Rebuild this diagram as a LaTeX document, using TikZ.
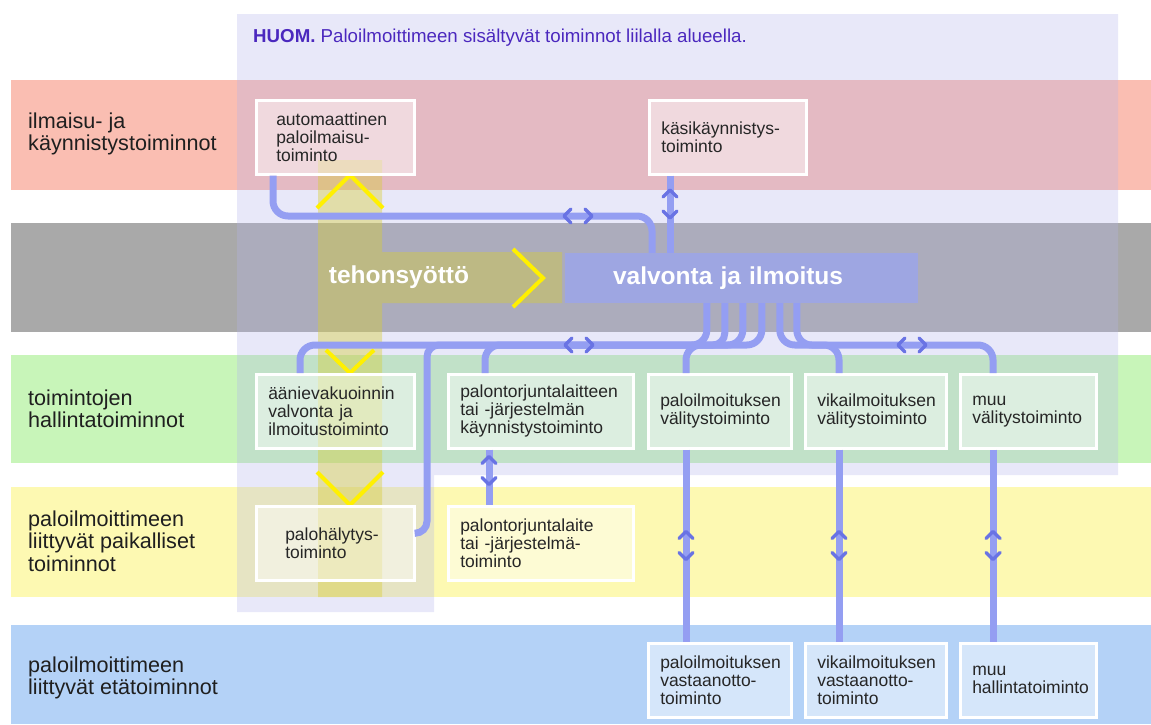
\documentclass[tikz,border=0pt]{standalone}
\usepackage{fontspec}
\setmainfont{Liberation Sans}
\usetikzlibrary{positioning}

\definecolor{bandred}{RGB}{250,190,178}
\definecolor{bandgray}{RGB}{169,169,169}
\definecolor{bandgreen}{RGB}{200,245,185}
\definecolor{bandyellow}{RGB}{253,249,178}
\definecolor{bandblue}{RGB}{180,210,247}
\definecolor{lilac}{RGB}{180,180,235}
\definecolor{power}{RGB}{215,205,50}
\definecolor{linkblue}{RGB}{148,158,242}
\definecolor{chevblue}{RGB}{105,115,228}
\definecolor{barblue}{RGB}{158,166,226}
\definecolor{notecol}{RGB}{75,40,190}
\definecolor{chevyellow}{RGB}{255,240,0}

\tikzset{
  funcbox/.style={draw=white, line width=2.5pt, fill=white, fill opacity=0.45, text opacity=1,
    anchor=north west, minimum height=74pt, inner xsep=12pt, inner ysep=0pt, align=left,
    font=\fontsize{17.5}{18}\selectfont, text=black!85},
  rowlabel/.style={anchor=west, align=left, inner sep=0pt, font=\fontsize{21.6}{22.5}\selectfont, text=black!88},
  link/.style={draw=linkblue, line width=7pt, rounded corners=15pt},
  chev/.style={draw=chevblue, line width=3.5pt, line cap=round, line join=round},
  ychev/.style={draw=chevyellow, line width=4pt},
  bigtext/.style={text=white, font=\fontsize{24.5}{26}\selectfont\bfseries}
}

% two chevrons on a link
\newcommand{\twoway}[2]{%
  \begin{scope}[shift={#1}, rotate=#2]
    \draw[chev] (-7,-7) -- (-14,0) -- (-7,7);
    \draw[chev] (7,-7) -- (14,0) -- (7,7);
  \end{scope}}

\begin{document}
\begin{tikzpicture}[x=1pt, y=-1pt]
  \useasboundingbox (0,0) rectangle (1151,724);

  % bands
  \fill[bandred] (11,80) rectangle (1151,190);
  \fill[bandgray] (11,223) rectangle (1151,332);
  \fill[bandgreen] (11,355) rectangle (1151,463);
  \fill[bandyellow] (11,487) rectangle (1151,597);
  \fill[bandblue] (11,625) rectangle (1151,724);

  % fire alarm area
  \fill[lilac, opacity=0.3] (237,14) -- (1118,14) -- (1118,475) -- (434,475)
    -- (434,612) -- (237,612) -- cycle;
  \node[anchor=west, inner sep=0pt, text=notecol, font=\fontsize{18.7}{20}\selectfont] (note) at (253,38)
    {\textbf{HUOM.} Paloilmoittimeen sisältyvät toiminnot liilalla alueella.};

  % power supply
  \fill[power, opacity=0.4] (318,160) -- (382,160) -- (382,252) -- (562,252) -- (562,303)
    -- (382,303) -- (382,597) -- (318,597) -- cycle;
  \draw[ychev] (317,208) -- (350,175) -- (383,208);
  \draw[ychev] (326,350) -- (350,373) -- (374,350);
  \draw[ychev] (317,472) -- (350,505) -- (383,472);
  \draw[ychev] (513,249) -- (543,278) -- (513,307);
  \node[bigtext] (feed) at (399,277) {tehonsyöttö};

  \node[fill=barblue, minimum height=50pt, inner xsep=48pt, inner ysep=0pt, text width=257pt,
    align=left, bigtext] (valv) at (741.5,278) {valvonta ja ilmoitus};

  % functions
  \node[funcbox, text width=118pt, inner xsep=20pt] (auto) at (255,99) {automaattinen\\paloilmaisu-\\toiminto};
  \node[funcbox, text width=133pt] (kasi) at (648,99) {käsikäynnistys-\\toiminto};
  \node[funcbox, text width=134pt] (aanie) at (255,373) {äänievakuoinnin\\valvonta ja\\ilmoitustoiminto};
  \node[funcbox, text width=161pt] (torj) at (447,373) {palontorjuntalaitteen\\tai -järjestelmän\\käynnistystoiminto};
  \node[funcbox, text width=119pt] (pvalit) at (647,373) {paloilmoituksen\\välitystoiminto};
  \node[funcbox, text width=117pt] (vvalit) at (804,373) {vikailmoituksen\\välitystoiminto};
  \node[funcbox, text width=112pt] (mvalit) at (959,373) {muu\\välitystoiminto};
  \node[funcbox, text width=100pt, inner xsep=29pt] (halyt) at (255,505) {palohälytys-\\toiminto};
  \node[funcbox, text width=161pt] (laite) at (447,505) {palontorjuntalaite\\tai -järjestelmä-\\toiminto};
  \node[funcbox, text width=119pt] (pvast) at (647,642) {paloilmoituksen\\vastaanotto-\\toiminto};
  \node[funcbox, text width=117pt] (vvast) at (804,642) {vikailmoituksen\\vastaanotto-\\toiminto};
  \node[funcbox, text width=112pt] (mhall) at (959,642) {muu\\hallintatoiminto};

  % links to valvonta
  \coordinate (j1) at (652,216);
  \coordinate (k1) at ([xshift=22pt]kasi.south west);
  \draw[link] ([xshift=18pt]auto.south west) |- (j1) -- (j1 |- valv.north);
  \draw[link] (k1) -- (k1 |- valv.north);
  \twoway{(578,216)}{0}
  \twoway{(670,204)}{90}

  % links from valvonta
  \foreach \i/\dx in {1/142,2/160,3/178,4/197,5/215,6/232}
    \coordinate (b\i) at ([xshift=\dx pt]valv.south west);
  \coordinate (a1) at ([xshift=45pt]aanie.north west);
  \coordinate (h1) at ([yshift=10pt]halyt.east);
  \coordinate (t1) at ([xshift=38pt]torj.north west);
  \coordinate (p1) at ([xshift=39pt]pvalit.north west);
  \coordinate (v1) at ([xshift=35pt]vvalit.north west);
  \coordinate (m1) at ([xshift=34pt]mvalit.north west);
  \draw[link] (b1) |- (a1 |- 0,345) -- (a1);
  \draw[link, rounded corners=12pt] (b2) |- (427,345) |- (h1);
  \draw[link] (b3) |- (t1 |- 0,345) -- (t1);
  \draw[link] (b4) |- (p1 |- 0,345) -- (p1);
  \draw[link] (b5) |- (v1 |- 0,345) -- (v1);
  \draw[link] (b6) |- (m1 |- 0,345) -- (m1);
  \twoway{(579,345)}{0}
  \twoway{(912,345)}{0}

  \draw[link] ([xshift=42pt]torj.south west) -- ([xshift=42pt]laite.north west);
  \twoway{([xshift=42pt, yshift=-21pt]torj.south west)}{90}
  \foreach \srcbox/\dstbox/\dx in {pvalit/pvast/39, vvalit/vvast/35, mvalit/mhall/34}{
    \draw[link] ([xshift=\dx pt]\srcbox.south west) -- ([xshift=\dx pt]\dstbox.north west);
    \twoway{([xshift=\dx pt, yshift=-96pt]\srcbox.south west)}{90}
  }

  % row labels
  \node[rowlabel] (lred) at (28,134) {ilmaisu- ja\\käynnistystoiminnot};
  \node[rowlabel] (lgreen) at (28,409) {toimintojen\\hallintatoiminnot};
  \node[rowlabel] (lyellow) at (28,541) {paloilmoittimeen\\liittyvät paikalliset\\toiminnot};
  \node[rowlabel] (lblue) at (28,678) {paloilmoittimeen\\liittyvät etätoiminnot};
\end{tikzpicture}
\end{document}
